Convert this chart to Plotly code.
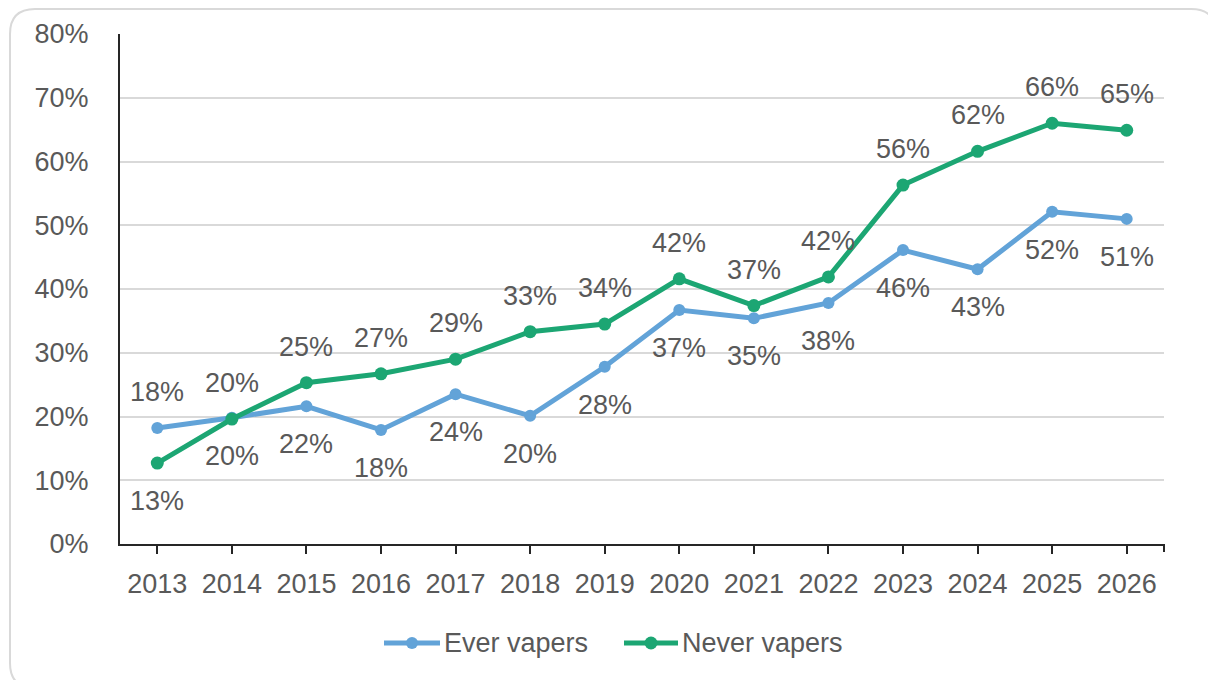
import plotly.graph_objects as go

# --- data -------------------------------------------------------------------
years = ["2013", "2014", "2015", "2016", "2017", "2018", "2019",
         "2020", "2021", "2022", "2023", "2024", "2025", "2026"]

ever_name = "Ever vapers"
ever_vapers = [18.2, 19.8, 21.6, 17.9, 23.5, 20.1, 27.8,
               36.7, 35.4, 37.8, 46.1, 43.1, 52.1, 51.0]

never_name = "Never vapers"
never_vapers = [12.7, 19.6, 25.3, 26.7, 29.0, 33.3, 34.5,
                41.6, 37.4, 41.9, 56.3, 61.6, 66.0, 64.9]

y_ticks = [0, 10, 20, 30, 40, 50, 60, 70, 80]

# label placement per point: -1 above the marker, +1 below
ever_label_side = [-1] + [1] * 13
never_label_side = [1] + [-1] * 13

# --- style ------------------------------------------------------------------
W, H = 1208, 680
M_L, M_R, M_T, M_B = 120, 44, 34, 136
FONT = "Liberation Sans, Arial, sans-serif"
TEXT = "#595959"
BLUE = "#62a3d8"
GREEN = "#1ca673"
FS = 27


def px(x):
    return (x - M_L) / (W - M_L - M_R)


def py(y):
    return (H - M_B - y) / (H - M_T - M_B)


fig = go.Figure()

for name, vals, color, msize in [(ever_name, ever_vapers, BLUE, 12),
                                 (never_name, never_vapers, GREEN, 13)]:
    fig.add_trace(go.Scatter(
        x=years, y=vals, name=name, mode="lines+markers",
        line=dict(color=color, width=5),
        marker=dict(color=color, size=msize),
        showlegend=False, hoverinfo="skip",
    ))

annotations = []
for vals, sides in [(ever_vapers, ever_label_side), (never_vapers, never_label_side)]:
    for i, (v, s) in enumerate(zip(vals, sides)):
        annotations.append(dict(
            x=i, y=v, xref="x", yref="y", text=f"{v:.0f}%",
            showarrow=False, xanchor="center", yanchor="middle",
            yshift=-38 if s > 0 else 36,
            font=dict(family=FONT, size=FS, color=TEXT),
        ))

shapes = []

# rounded outer frame
x0, y0, x1, y1, r = 10, 9, 1216, 688, 25
frame_path = (
    f"M {px(x0 + r)},{py(y0)} L {px(x1 - r)},{py(y0)} "
    f"Q {px(x1)},{py(y0)} {px(x1)},{py(y0 + r)} "
    f"L {px(x1)},{py(y1 - r)} Q {px(x1)},{py(y1)} {px(x1 - r)},{py(y1)} "
    f"L {px(x0 + r)},{py(y1)} Q {px(x0)},{py(y1)} {px(x0)},{py(y1 - r)} "
    f"L {px(x0)},{py(y0 + r)} Q {px(x0)},{py(y0)} {px(x0 + r)},{py(y0)} Z"
)
shapes.append(dict(type="path", path=frame_path, xref="paper", yref="paper",
                   line=dict(color="#d9d9d9", width=2), layer="below"))

# closing tick at the right end of the category axis
shapes.append(dict(type="line", xref="paper", x0=1, x1=1,
                   yref="paper", ysizemode="pixel", yanchor=0, y0=0, y1=-8,
                   line=dict(color="#262626", width=2)))

# legend: line-with-marker keys followed by series names
legend_y = 643
for name, color, lx0, lx1, msize in [(ever_name, BLUE, 384, 440, 12),
                                     (never_name, GREEN, 624, 678, 13)]:
    shapes.append(dict(type="line", xref="paper", yref="paper",
                       x0=px(lx0), x1=px(lx1), y0=py(legend_y), y1=py(legend_y),
                       line=dict(color=color, width=5)))
    cx = (lx0 + lx1) / 2
    shapes.append(dict(type="circle", xref="paper", yref="paper",
                       x0=px(cx - msize / 2), x1=px(cx + msize / 2),
                       y0=py(legend_y + msize / 2), y1=py(legend_y - msize / 2),
                       fillcolor=color, line=dict(color=color, width=0)))
    annotations.append(dict(
        x=px(lx1 + 2), y=py(legend_y), xref="paper", yref="paper",
        text=name, showarrow=False, xanchor="left", yanchor="middle",
        font=dict(family=FONT, size=FS, color=TEXT),
    ))

fig.update_layout(
    width=W, height=H,
    margin=dict(l=M_L, r=M_R, t=M_T, b=M_B),
    paper_bgcolor="white", plot_bgcolor="white",
    font=dict(family=FONT, size=FS, color=TEXT),
    showlegend=False,
    annotations=annotations,
    shapes=shapes,
    xaxis=dict(
        type="category", range=[-0.5, len(years) - 0.5],
        showline=True, linecolor="#262626", linewidth=2,
        ticks="outside", ticklen=8, tickwidth=2, tickcolor="#262626",
        showgrid=False, tickfont=dict(family=FONT, size=FS, color=TEXT),
        ticklabelstandoff=7,
    ),
    yaxis=dict(
        range=[0, 80], tickvals=y_ticks, ticktext=[f"{t}%" for t in y_ticks],
        showline=True, linecolor="#262626", linewidth=2,
        showgrid=True, gridcolor="#d9d9d9", gridwidth=2,
        zeroline=False, ticks="",
        tickfont=dict(family=FONT, size=FS, color=TEXT),
        ticklabelstandoff=24,
    ),
)

fig.write_html("out.html")
